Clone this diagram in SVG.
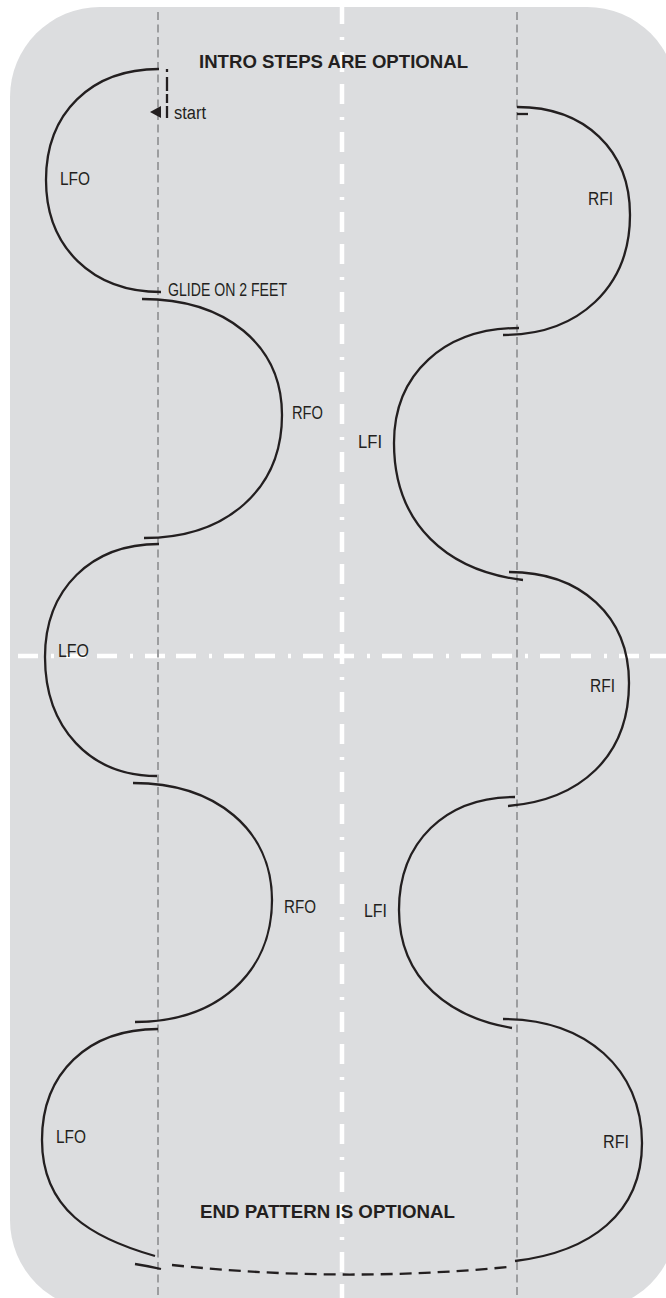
<svg xmlns="http://www.w3.org/2000/svg" width="666" height="1298" viewBox="0 0 666 1298">
<style>
.arc{fill:none;stroke:#231f20;stroke-width:2.3;stroke-linecap:butt}
.guide{fill:none;stroke:#9c9d9f;stroke-width:2;stroke-dasharray:8 4.5}
.axis{fill:none;stroke:#ffffff;stroke-width:4.5}
.lbl{font-family:"Liberation Sans Narrow","Liberation Sans",Arial,sans-serif;font-size:18px;fill:#231f20}
.hdr{font-family:"Liberation Sans",Arial,sans-serif;font-size:17.5px;font-weight:bold;fill:#231f20}
</style>
<rect id="rink" x="10" y="7" width="667" height="1303" rx="90" ry="90" fill="#dcdddf"/>
<g id="axes">
<line class="axis" x1="342" y1="0" x2="342" y2="1298" stroke-dasharray="3 12 20 12 20 13" stroke-dashoffset="43"/>
<line class="axis" x1="12" y1="656" x2="666" y2="656" stroke-dasharray="3 12 20 11 20 13" stroke-dashoffset="40"/>
</g>
<g id="guides">
<line class="guide" x1="158" y1="12" x2="158" y2="1298"/>
<line class="guide" x1="517" y1="12" x2="517" y2="1298"/>
</g>
<g id="connectors">
<path class="arc" d="M167,69 V118" stroke-width="2.6" stroke-dasharray="3 5 14 3 9 3 13"/>
<polygon points="150,112 161,106 161,118" fill="#231f20"/>
<path class="arc" d="M135,1264 Q148,1266 161,1269"/>
<path class="arc" d="M172,1265 Q340,1283 508,1267" stroke-dasharray="12 7"/>
<line class="arc" x1="517" y1="114" x2="528" y2="114"/>
</g>
<g id="lfo1">
<path class="arc" d="M159,69 C91,69 46,113 46,180 C46,247 92,292 161,292"/>
<text class="lbl" x="60" y="185" textLength="30" lengthAdjust="spacingAndGlyphs">LFO</text>
</g>
<g id="rfo1">
<path class="arc" d="M142,299 C226,299 282,345 282,415 C282,489 227,538 144,538"/>
<text class="lbl" x="292" y="419" textLength="31" lengthAdjust="spacingAndGlyphs">RFO</text>
</g>
<g id="lfo2">
<path class="arc" d="M159,544 C91,544 45,589 45,657 C45,728 90,776 157,776"/>
<text class="lbl" x="58" y="657" textLength="31" lengthAdjust="spacingAndGlyphs">LFO</text>
</g>
<g id="rfo2">
<path class="arc" d="M133,783 C216,783 272,830 272,900 C272,973 217,1022 135,1022"/>
<text class="lbl" x="284" y="913" textLength="32" lengthAdjust="spacingAndGlyphs">RFO</text>
</g>
<g id="lfo3">
<path class="arc" d="M158,1029 C88,1029 42,1073 42,1140 C42,1210 92,1238 155,1256"/>
<text class="lbl" x="56" y="1143" textLength="30" lengthAdjust="spacingAndGlyphs">LFO</text>
</g>
<g id="rfi1">
<path class="arc" d="M517,107 C585,107 630,150 630,215 C630,287 579,335 503,335"/>
<text class="lbl" x="588" y="205" textLength="25" lengthAdjust="spacingAndGlyphs">RFI</text>
</g>
<g id="lfi1">
<path class="arc" d="M519,328 C444,328 394,374 394,443 C394,525 448,571 523,580"/>
<text class="lbl" x="358" y="448" textLength="24" lengthAdjust="spacingAndGlyphs">LFI</text>
</g>
<g id="rfi2">
<path class="arc" d="M509,572 C581,572 629,616 629,683 C629,757 580,800 508,806"/>
<text class="lbl" x="590" y="692" textLength="25" lengthAdjust="spacingAndGlyphs">RFI</text>
</g>
<g id="lfi2">
<path class="arc" d="M515,797 C445,797 399,842 399,910 C399,981 452,1018 512,1028"/>
<text class="lbl" x="364" y="917" textLength="23" lengthAdjust="spacingAndGlyphs">LFI</text>
</g>
<g id="rfi3">
<path class="arc" d="M503,1019 C586,1019 642,1069 642,1143 C642,1214 590,1252 515,1261"/>
<text class="lbl" x="603" y="1148" textLength="26" lengthAdjust="spacingAndGlyphs">RFI</text>
</g>
<g id="notes">
<text class="hdr" x="199" y="68" textLength="269" lengthAdjust="spacingAndGlyphs">INTRO STEPS ARE OPTIONAL</text>
<text class="lbl" x="174" y="119" textLength="32" lengthAdjust="spacingAndGlyphs">start</text>
<text class="lbl" x="168" y="296" font-size="17" textLength="119" lengthAdjust="spacingAndGlyphs">GLIDE ON 2 FEET</text>
<text class="hdr" x="200" y="1218" textLength="255" lengthAdjust="spacingAndGlyphs">END PATTERN IS OPTIONAL</text>
</g>
</svg>
